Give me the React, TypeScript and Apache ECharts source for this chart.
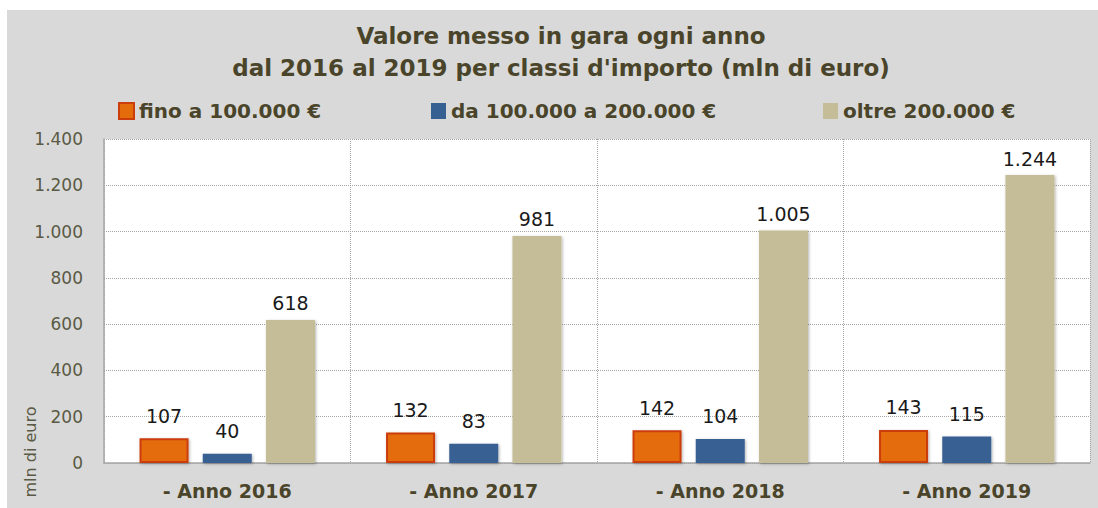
import React, { useEffect, useRef } from "react";
import * as echarts from "echarts";

const categories = ["- Anno 2016", "- Anno 2017", "- Anno 2018", "- Anno 2019"];
const seriesNames = ["fino a 100.000 €", "da 100.000 a 200.000 €", "oltre 200.000 €"];
const fino100k = [107, 132, 142, 143];
const da100a200k = [40, 83, 104, 115];
const oltre200k = [618, 981, 1005, 1244];
const yTicks = { min: 0, max: 1400, interval: 200 };

const fmt = (v: number) => String(v).replace(/\B(?=(\d{3})+(?!\d))/g, ".");

export default function App() {
  const ref = useRef<HTMLDivElement>(null);
  useEffect(() => {
    if (!ref.current) return;
    const chart = echarts.init(ref.current, null, { renderer: "svg" });
    const titleColor = "#4a452a";
    const axisColor = "#5a5944";
    const labelBase = {
      show: true,
      position: "top" as const,
      color: "#1a1a1a",
      fontFamily: "DejaVu Sans",
      fontSize: 19,
      formatter: (p: any) => fmt(p.value),
    };
    const shadow = {
      shadowBlur: 3,
      shadowColor: "rgba(0,0,0,0.3)",
      shadowOffsetX: 1,
      shadowOffsetY: 1,
    };
    const legendBase = {
      top: 96,
      itemWidth: 15,
      itemHeight: 16,
      icon: "rect",
      textStyle: { fontFamily: "DejaVu Sans", fontWeight: "bold" as const, fontSize: 20, color: titleColor },
    };
    chart.setOption({
      animation: false,
      backgroundColor: "#ffffff",
      graphic: [
        {
          type: "rect",
          z: -10,
          silent: true,
          shape: { x: 7, y: 10, width: 1098, height: 508 },
          style: { fill: "#d9d9d9" },
        },
        {
          type: "text",
          x: 30,
          y: 452,
          rotation: Math.PI / 2,
          style: {
            text: "mln di euro",
            fontFamily: "DejaVu Sans",
            fontSize: 16,
            fill: axisColor,
            align: "center",
            verticalAlign: "middle",
          },
        },
      ],
      title: {
        text: "Valore messo in gara ogni anno\ndal 2016 al 2019 per classi d'importo (mln di euro)",
        left: 556,
        textAlign: "center",
        top: 15,
        textStyle: {
          fontFamily: "DejaVu Sans",
          fontWeight: "bold",
          fontSize: 23,
          lineHeight: 32,
          color: titleColor,
        },
      },
      legend: [
        { ...legendBase, left: 113, data: [seriesNames[0]] },
        { ...legendBase, left: 426, data: [seriesNames[1]] },
        { ...legendBase, left: 818, data: [seriesNames[2]] },
      ],
      grid: {
        left: 104,
        right: 8,
        top: 139,
        bottom: 45,
        show: true,
        backgroundColor: "#ffffff",
        borderWidth: 0,
      },
      xAxis: {
        type: "category",
        data: categories,
        axisLine: { show: true, lineStyle: { color: "#a6a6a6", width: 1.5 } },
        axisTick: { show: false },
        axisLabel: {
          margin: 18,
          fontFamily: "DejaVu Sans",
          fontWeight: "bold",
          fontSize: 19,
          color: titleColor,
        },
        splitLine: { show: true, lineStyle: { color: "#a6a6a6", type: "dotted", width: 1 } },
      },
      yAxis: {
        type: "value",
        min: yTicks.min,
        max: yTicks.max,
        interval: yTicks.interval,
        axisLine: { show: true, lineStyle: { color: "#a6a6a6", width: 1.5 } },
        axisTick: { show: false },
        axisLabel: {
          margin: 21,
          fontFamily: "DejaVu Sans",
          fontSize: 17,
          color: axisColor,
          formatter: (v: number) => fmt(v),
        },
        splitLine: { show: true, lineStyle: { color: "#a6a6a6", type: "dotted", width: 1 } },
      },
      series: [
        {
          name: seriesNames[0],
          type: "bar",
          data: fino100k,
          barWidth: 49,
          barGap: "29%",
          itemStyle: { color: "#e46c0a", borderColor: "#cc3d0c", borderWidth: 2, ...shadow },
          label: { ...labelBase, distance: 13 },
        },
        {
          name: seriesNames[1],
          type: "bar",
          data: da100a200k,
          barWidth: 49,
          barGap: "29%",
          itemStyle: { color: "#376092", ...shadow },
          label: { ...labelBase, distance: 13 },
        },
        {
          name: seriesNames[2],
          type: "bar",
          data: oltre200k,
          barWidth: 49,
          barGap: "29%",
          itemStyle: { color: "#c4bd97", ...shadow },
          label: { ...labelBase, distance: 7 },
        },
      ],
    });
    return () => chart.dispose();
  }, []);
  return (
    <div
      ref={ref}
      style={{ position: "fixed", left: 0, top: 0, width: 1098, height: 508 }}
    />
  );
}
